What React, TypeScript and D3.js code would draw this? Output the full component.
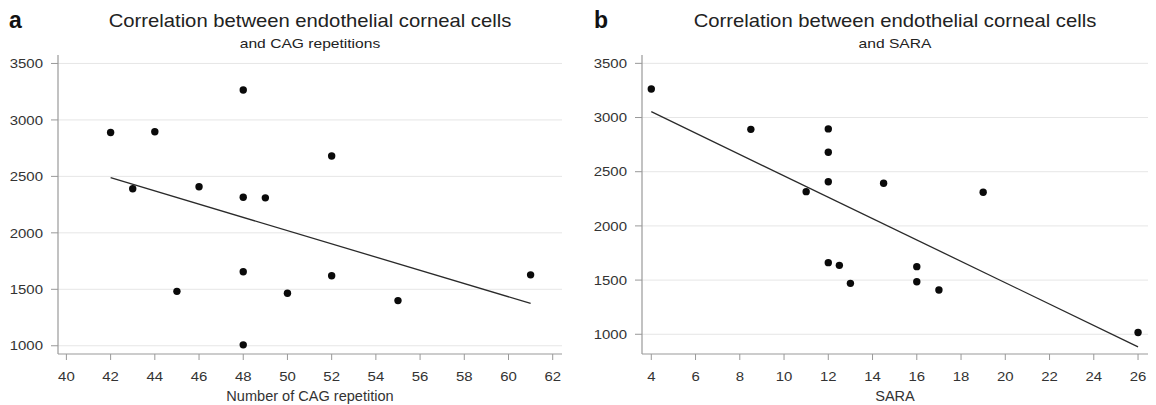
import React from "react";
import * as d3 from "d3";

// ---- data ----
const cagX = [42, 43, 44, 45, 46, 48, 48, 49, 48, 48, 50, 52, 52, 55, 61];
const cagY = [2888, 2390, 2895, 1482, 2408, 3265, 2315, 2310, 1655, 1008, 1465, 2680, 1620, 1400, 1628];
const saraX = [4, 8.5, 12, 12, 12, 11, 14.5, 19, 12, 12.5, 13, 16, 16, 17, 26];
const saraY = [3263, 2891, 2895, 2679, 2408, 2316, 2393, 2310, 1661, 1636, 1470, 1624, 1485, 1409, 1016];
const cagTicks = [40, 42, 44, 46, 48, 50, 52, 54, 56, 58, 60, 62];
const saraTicks = [4, 6, 8, 10, 12, 14, 16, 18, 20, 22, 24, 26];
const yTicks = [1000, 1500, 2000, 2500, 3000, 3500];
const titleText = "Correlation between endothelial corneal cells";

const W = 1156;
const H = 405;
const FONT = "'Liberation Sans', Arial, Helvetica, sans-serif";

type PanelCfg = {
  letter: string;
  subtitle: string;
  xLabel: string;
  xs: number[];
  ys: number[];
  xTicks: number[];
  xDomain: [number, number];
  yDomain: [number, number];
  left: number;
  right: number;
  letterX: number;
};

const panels: PanelCfg[] = [
  {
    letter: "a",
    subtitle: "and CAG repetitions",
    xLabel: "Number of CAG repetition",
    xs: cagX,
    ys: cagY,
    xTicks: cagTicks,
    xDomain: [39.62, 62.42],
    yDomain: [927, 3575],
    left: 58,
    right: 562,
    letterX: 9,
  },
  {
    letter: "b",
    subtitle: "and SARA",
    xLabel: "SARA",
    xs: saraX,
    ys: saraY,
    xTicks: saraTicks,
    xDomain: [3.58, 26.45],
    yDomain: [818, 3577],
    left: 642,
    right: 1148,
    letterX: 594,
  },
];

const TOP = 55;
const BOTTOM = 354;

function regression(xs: number[], ys: number[]) {
  const mx = d3.mean(xs) as number;
  const my = d3.mean(ys) as number;
  let sxy = 0;
  let sxx = 0;
  xs.forEach((x, i) => {
    sxy += (x - mx) * (ys[i] - my);
    sxx += (x - mx) * (x - mx);
  });
  const slope = sxy / sxx;
  const intercept = my - slope * mx;
  return (x: number) => intercept + slope * x;
}

function SText(props: {
  x: number;
  y: number;
  sx?: number;
  size: number;
  anchor?: string;
  weight?: string | number;
  fill?: string;
  children: React.ReactNode;
}) {
  const { x, y, sx = 1, size, anchor = "middle", weight = "normal", fill = "#333", children } = props;
  return (
    <text
      transform={`translate(${x},${y}) scale(${sx},1)`}
      fontSize={size}
      fontFamily={FONT}
      textAnchor={anchor}
      fontWeight={weight}
      fill={fill}
    >
      {children}
    </text>
  );
}

function Panel({ cfg }: { cfg: PanelCfg }) {
  const x = d3.scaleLinear().domain(cfg.xDomain).range([cfg.left, cfg.right]);
  const y = d3.scaleLinear().domain(cfg.yDomain).range([BOTTOM, TOP]);
  const fit = regression(cfg.xs, cfg.ys);
  const [x0, x1] = d3.extent(cfg.xs) as [number, number];
  const line = d3
    .line<number>()
    .x((d) => x(d))
    .y((d) => y(fit(d)));
  const cx = (cfg.left + cfg.right) / 2;
  return (
    <g>
      <SText x={cfg.letterX} y={28} size={23} anchor="start" weight="bold" fill="#111">
        {cfg.letter}
      </SText>
      <SText x={cx} y={27} size={18.5} sx={1.095} fill="#222">
        {titleText}
      </SText>
      <SText x={cx} y={48} size={12.5} sx={1.25} fill="#222">
        {cfg.subtitle}
      </SText>
      {/* grid + y axis */}
      {yTicks.map((t) => (
        <g key={t}>
          <line x1={cfg.left} x2={cfg.right} y1={y(t)} y2={y(t)} stroke="#e6e6e6" strokeWidth={1} />
          <line x1={cfg.left - 7} x2={cfg.left} y1={y(t)} y2={y(t)} stroke="#999" strokeWidth={1} />
          <SText x={cfg.left - 15} y={y(t) + 4.7} size={13} sx={1.15} anchor="end">
            {t}
          </SText>
        </g>
      ))}
      <line x1={cfg.left} x2={cfg.left} y1={TOP} y2={BOTTOM} stroke="#999" strokeWidth={1.2} />
      {/* x axis */}
      <line x1={cfg.left} x2={cfg.right} y1={BOTTOM} y2={BOTTOM} stroke="#999" strokeWidth={1.2} />
      {cfg.xTicks.map((t) => (
        <g key={t}>
          <line x1={x(t)} x2={x(t)} y1={BOTTOM} y2={BOTTOM + 6} stroke="#999" strokeWidth={1} />
          <SText x={x(t)} y={380.5} size={13} sx={1.15}>
            {t}
          </SText>
        </g>
      ))}
      <SText x={cx} y={401} size={14} sx={1.04}>
        {cfg.xLabel}
      </SText>
      {/* regression line */}
      <path d={line([x0, x1]) || ""} fill="none" stroke="#2a2a2a" strokeWidth={1.3} />
      {/* points */}
      {cfg.xs.map((v, i) => (
        <circle key={i} cx={x(v)} cy={y(cfg.ys[i])} r={3.7} fill="#0a0a0a" />
      ))}
    </g>
  );
}

export default function App() {
  return (
    <svg
      width={W}
      height={H}
      viewBox={`0 0 ${W} ${H}`}
      style={{ position: "absolute", left: 0, top: 0, background: "#fff" }}
    >
      <rect x={0} y={0} width={W} height={H} fill="#fff" />
      {panels.map((p) => (
        <Panel key={p.letter} cfg={p} />
      ))}
    </svg>
  );
}
